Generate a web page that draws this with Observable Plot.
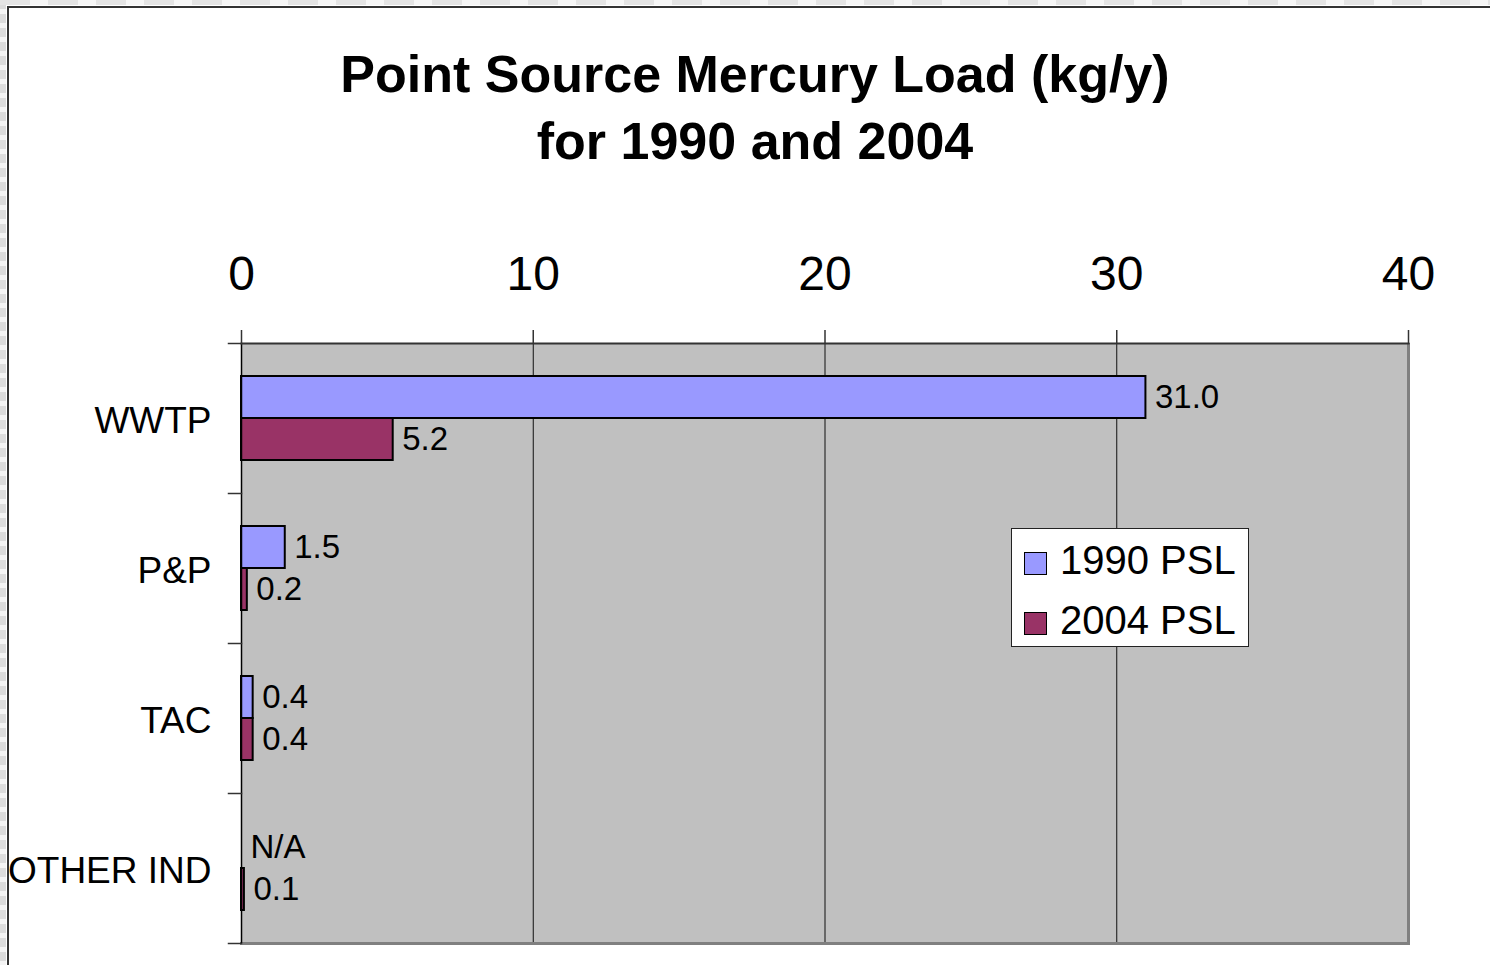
<!DOCTYPE html>
<html>
<head>
<meta charset="utf-8">
<script src="https://cdn.jsdelivr.net/npm/d3@7"></script>
<script src="https://cdn.jsdelivr.net/npm/@observablehq/plot@0.6"></script>
<style>
  html, body { margin: 0; padding: 0; background: #fff; width: 1490px; height: 965px; overflow: hidden; font-family: "Liberation Sans", Arial, sans-serif; }
  #stripL { position: absolute; left: 0; top: 0; width: 6px; height: 965px;
    background: repeating-linear-gradient(to bottom, #dcdcdc 0 9px, #f4f4f4 9px 14px); }
  #stripT { position: absolute; left: 0; top: 0; width: 1490px; height: 5px;
    background: repeating-linear-gradient(to right, #e4e4e4 0 30px, #f6f6f6 30px 48px); }
  #panel { position: absolute; left: 7px; top: 6px; width: 1500px; height: 980px; border-left: 2px solid #333; border-top: 2px solid #333; background: #fff; }
  #title { position: absolute; left: 0; top: 41px; width: 1510px; text-align: center; font-weight: bold; font-size: 52px; line-height: 67px; color: #000; }
  #chart { position: absolute; left: 0; top: 190px; }
  #legend { position: absolute; left: 1011px; top: 528px; width: 236px; height: 117px; border: 1px solid #222; background: #fff; }
  .item { position: absolute; left: 12px; height: 46px; font-size: 40px; line-height: 46px; white-space: nowrap; }
  .sw { display: inline-block; width: 21px; height: 21px; border: 1.5px solid #000; margin-right: 13px; vertical-align: -1px; }
</style>
</head>
<body>
<div id="stripL"></div>
<div id="stripT"></div>
<div id="panel"></div>
<div id="title">Point Source Mercury Load (kg/y)<br>for 1990 and 2004</div>
<div id="chart"></div>
<div id="legend"></div>
<script>
const categories = ["WWTP", "P&P", "TAC", "OTHER IND"];
const series = ["1990 PSL", "2004 PSL"];
const load1990 = [31.0, 1.5, 0.4, null];
const load2004 = [5.2, 0.2, 0.4, 0.1];
const xTicks = [0, 10, 20, 30, 40];
const seriesColors = ["#9999ff", "#993366"];

const rows = [];
categories.forEach((c, i) => {
  rows.push({category: c, series: series[0], value: load1990[i]});
  rows.push({category: c, series: series[1], value: load2004[i]});
});

const W = 1490, H = 775;
const mL = 241, mR = 82, mT = 152, mB = 22;
const plotW = W - mL - mR;

const chart = Plot.plot({
  width: W,
  height: H,
  marginLeft: mL,
  marginRight: mR,
  marginTop: mT,
  marginBottom: mB,
  style: {fontFamily: "'Liberation Sans', Arial, sans-serif", color: "#000", background: "transparent"},
  x: {domain: [0, 40]},
  y: {domain: series, paddingInner: 0, paddingOuter: 0.75, axis: null},
  fy: {domain: categories, padding: 0},
  color: {domain: series, range: seriesColors},
  marks: [
    Plot.frame({fill: "#c0c0c0", stroke: "none", shapeRendering: "crispEdges"}),
    Plot.ruleX([10, 20, 30], {stroke: "#111", strokeWidth: 1}),
    Plot.barX(rows, {fy: "category", y: "series", x: "value", fill: "series", stroke: "#000", strokeWidth: 2}),
    Plot.text(rows, {
      fy: "category", y: "series",
      x: d => d.value == null ? 0 : d.value,
      text: d => d.value == null ? "N/A" : d.value.toFixed(1),
      textAnchor: "start", dx: 9, fontSize: 33, fill: "#000"
    }),
    Plot.ruleX([40], {stroke: "#808080", strokeWidth: 3}),
    Plot.frame({anchor: "bottom", facetAnchor: "bottom", stroke: "#808080", strokeWidth: 3}),
    Plot.ruleX([0], {stroke: "#000", strokeWidth: 1.5}),
    Plot.frame({anchor: "top", facetAnchor: "top", stroke: "#333", strokeWidth: 2}),
    Plot.frame({anchor: "top", insetLeft: -13, insetRight: plotW, stroke: "#333", strokeWidth: 1.5}),
    Plot.frame({anchor: "bottom", facetAnchor: "bottom", insetLeft: -13, insetRight: plotW, stroke: "#333", strokeWidth: 1.5}),
    Plot.axisX({anchor: "top", ticks: xTicks, tickSize: 14, tickPadding: 40, fontSize: 48, label: null, stroke: "#333", strokeWidth: 1.5}),
    Plot.axisFy({anchor: "left", tickSize: 0, tickPadding: 30, fontSize: 37, label: null, dy: 3})
  ]
});
document.getElementById("chart").appendChild(chart);

const color = chart.scale("color");
const legend = document.getElementById("legend");
series.forEach((s, i) => {
  const item = document.createElement("div");
  item.className = "item";
  item.style.top = (8 + i * 60) + "px";
  const sw = document.createElement("span");
  sw.className = "sw";
  sw.style.background = color.apply(s);
  item.appendChild(sw);
  item.appendChild(document.createTextNode(s));
  legend.appendChild(item);
});
</script>
</body>
</html>
